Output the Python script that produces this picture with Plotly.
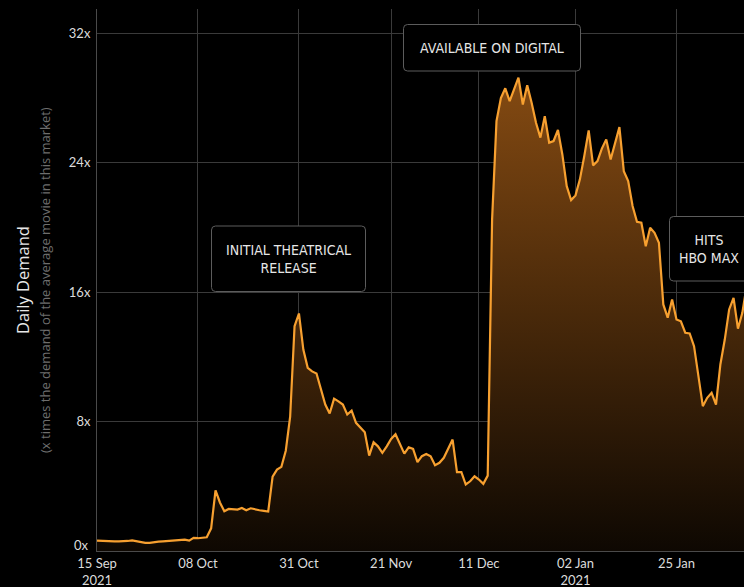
import pandas as pd
import plotly.graph_objects as go

start_date = "2020-09-15"
demand = [
    0.64, 0.62, 0.62, 0.60, 0.60, 0.60, 0.60, 0.62, 0.66, 0.60,
    0.55, 0.50, 0.50, 0.55, 0.58, 0.60, 0.62, 0.64, 0.66, 0.70,
    0.70, 0.64, 0.81, 0.79, 0.80, 0.85, 1.40, 3.75, 3.00, 2.46,
    2.60, 2.58, 2.56, 2.66, 2.52, 2.64, 2.56, 2.52, 2.48, 2.44,
    4.60, 5.03, 5.20, 6.20, 8.30, 13.90, 14.68, 12.45, 11.32, 11.10,
    10.97, 10.05, 9.05, 8.50, 9.42, 9.25, 9.05, 8.44, 8.68, 7.92,
    7.60, 7.34, 5.90, 6.72, 6.47, 6.07, 6.47, 6.93, 7.22, 6.58,
    6.02, 6.41, 6.31, 5.49, 5.86, 6.00, 5.86, 5.30, 5.45, 5.76,
    6.30, 6.89, 4.87, 4.87, 4.11, 4.31, 4.62, 4.42, 4.15, 4.66,
    20.50, 26.57, 28.00, 28.60, 27.80, 28.50, 29.26, 27.60, 28.78, 27.70,
    26.47, 25.55, 26.88, 25.24, 25.34, 26.02, 24.51, 22.55, 21.69, 21.98,
    22.97, 24.41, 26.00, 23.83, 24.10, 24.87, 25.44, 24.20, 25.18, 26.20,
    23.48, 22.86, 21.32, 20.35, 20.29, 18.84, 19.98, 19.67, 19.05, 15.24,
    14.42, 15.55, 14.31, 14.20, 13.49, 13.45, 12.66, 10.91, 8.95, 9.47,
    9.78, 9.05, 11.53, 13.07, 14.93, 15.65, 13.74, 14.72, 16.40,
]
dates = pd.date_range(start_date, periods=len(demand), freq="D")

tick_dates = ["2020-09-15", "2020-10-08", "2020-10-31", "2020-11-21",
              "2020-12-11", "2021-01-02", "2021-01-25"]
tick_labels = ["15 Sep<br>2021", "08 Oct", "31 Oct", "21 Nov",
               "11 Dec", "02 Jan<br>2021", "25 Jan"]
y_ticks = [0, 8, 16, 24, 32]
y_tick_labels = ["", "8x", "16x", "24x", "32x"]
zero_label = "0x"

annotations_text = ["INITIAL THEATRICAL<br>RELEASE", "AVAILABLE ON DIGITAL", "HITS<br>HBO MAX"]
# annotation boxes in page pixels: left, top, right, bottom
annotations_box = [(211.5, 226, 365.5, 291.5), (403.5, 24.5, 580.5, 71), (669.5, 216.5, 749, 281)]

W, H = 744, 587
ML, MR, MT, MB = 97, 0, 9, 36
PW, PH = W - ML - MR, H - MT - MB


def px_x(px):
    return (px - ML) / PW


def px_y(py):
    return (H - MB - py) / PH


fig = go.Figure()
fig.add_trace(go.Scatter(
    x=dates, y=demand, mode="lines",
    line=dict(color="#f7a030", width=2.2),
    fill="tozeroy",
    fillgradient=dict(type="vertical",
                      colorscale=[[0, "rgb(14,8,2)"], [1, "rgb(132,74,18)"]]),
    hoverinfo="skip", showlegend=False,
))

label_font = "DejaVu Sans Condensed, Liberation Sans Narrow, Roboto, sans-serif"
tick_font = dict(family="Lato, Open Sans, sans-serif", size=13, color="#dcdcdc")
anns = []
shapes = []
r = 4.0
for t, (l, tp, rt, bt) in zip(annotations_text, annotations_box):
    x0, x1 = px_x(l), px_x(rt)
    y0, y1 = px_y(bt), px_y(tp)
    rx, ry = r / PW, r / PH
    path = (f"M {x0 + rx},{y1} L {x1 - rx},{y1} Q {x1},{y1} {x1},{y1 - ry} "
            f"L {x1},{y0 + ry} Q {x1},{y0} {x1 - rx},{y0} "
            f"L {x0 + rx},{y0} Q {x0},{y0} {x0},{y0 + ry} "
            f"L {x0},{y1 - ry} Q {x0},{y1} {x0 + rx},{y1} Z")
    shapes.append(dict(type="path", path=path, xref="paper", yref="paper",
                       line=dict(color="#5c5c5c", width=1), fillcolor="#000000",
                       layer="above"))
    anns.append(dict(
        x=(x0 + x1) / 2, y=(y0 + y1) / 2, xref="paper", yref="paper", text=t,
        showarrow=False, xanchor="center", yanchor="middle", align="center",
        font=dict(family=label_font, size=14, color="#e6e6e6"),
    ))

anns.append(dict(
    x=0, xref="paper", xshift=-6, y=y_ticks[0], yref="y", yshift=6,
    text=zero_label, showarrow=False, xanchor="right", yanchor="middle",
    font=tick_font,
))
anns.append(dict(
    x=0, xref="paper", xshift=-75, y=0.5, yref="paper", text="Daily Demand",
    textangle=-90, showarrow=False, xanchor="center", yanchor="middle",
    font=dict(family="Open Sans, Lato, sans-serif", size=16.5, color="#e8e8e8"),
))
anns.append(dict(
    x=0, xref="paper", xshift=-52, y=0.5, yref="paper",
    text="(x times the demand of the average movie in this market)",
    textangle=-90, showarrow=False, xanchor="center", yanchor="middle",
    font=dict(family="Open Sans, Lato, sans-serif", size=13, color="#6e6e6e"),
))

fig.update_layout(
    width=W, height=H,
    margin=dict(l=ML, r=MR, t=MT, b=MB),
    paper_bgcolor="#000000", plot_bgcolor="#000000",
    annotations=anns, shapes=shapes,
    xaxis=dict(
        type="date",
        range=["2020-09-15", "2021-02-09 09:07"],
        tickvals=tick_dates, ticktext=tick_labels,
        showgrid=True, gridcolor="#3a3a3a", gridwidth=1,
        showline=True, linecolor="#4a4a4a", linewidth=1,
        ticks="", tickfont=tick_font,
        zeroline=False,
    ),
    yaxis=dict(
        range=[0, 33.5],
        tickvals=y_ticks, ticktext=y_tick_labels,
        showgrid=True, gridcolor="#3a3a3a", gridwidth=1,
        showline=True, linecolor="#4a4a4a", linewidth=1,
        ticks="", tickfont=tick_font, ticklabelstandoff=3,
        zeroline=False,
    ),
)

fig.write_html("out.html")
